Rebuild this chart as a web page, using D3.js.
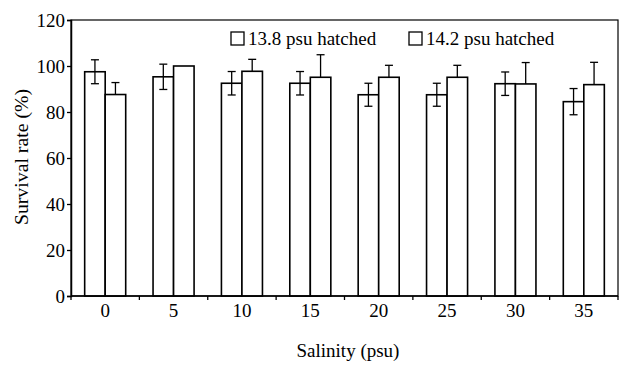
<!DOCTYPE html>
<html><head><meta charset="utf-8">
<script src="https://cdn.jsdelivr.net/npm/d3@7"></script>
<style>body{margin:0;background:#fff}svg{display:block}</style>
</head><body>
<script>
const categories = ["0","5","10","15","20","25","30","35"];
const seriesNames = ["13.8 psu hatched","14.2 psu hatched"];
const s1 = [97.5, 95.3, 92.5, 92.5, 87.5, 87.5, 92.3, 84.5];
const s1err = [5.2, 5.5, 5.1, 5.1, 5.0, 5.0, 5.1, 5.7];
const s2 = [87.6, 100, 97.7, 95.1, 95.1, 95.1, 92.2, 91.9];
const s2err = [5.2, 0, 5.2, 9.8, 5.2, 5.2, 9.3, 9.7];
const yTicks = [0,20,40,60,80,100,120];

const W=626,H=366;
const FF='"Liberation Serif"';
const m={l:71,r:8,t:20,b:70};
const svg=d3.select("body").append("svg").attr("width",W).attr("height",H);
const x=d3.scaleBand().domain(categories).range([m.l,W-m.r]).paddingInner(0.4).paddingOuter(0.2);
const xs=d3.scaleBand().domain([0,1]).range([0,x.bandwidth()]);
const y=d3.scaleLinear().domain([0,120]).range([H-m.b,m.t]);
const x0=m.l,x1=W-m.r,y0=H-m.b,y1=m.t;

// frame
svg.append("rect").attr("x",x0).attr("y",y1).attr("width",x1-x0).attr("height",y0-y1)
  .attr("fill","none").attr("stroke","#000").attr("stroke-width",1.2);

// bars
const series=[{v:s1,e:s1err,two:true},{v:s2,e:s2err,two:false}];
series.forEach((s,si)=>{
  const g=svg.append("g");
  categories.forEach((c,i)=>{
    const bx=x(c)+xs(si), bw=xs.bandwidth();
    g.append("rect").attr("x",bx).attr("y",y(s.v[i])).attr("width",bw).attr("height",y(0)-y(s.v[i]))
      .attr("fill","#fff").attr("stroke","#000").attr("stroke-width",1.6);
    if(s.e[i]>0){
      const cx=bx+bw/2, top=y(s.v[i]+s.e[i]), bot=s.two?y(s.v[i]-s.e[i]):y(s.v[i]);
      g.append("line").attr("x1",cx).attr("x2",cx).attr("y1",top).attr("y2",bot).attr("stroke","#000").attr("stroke-width",1.3);
      g.append("line").attr("x1",cx-4).attr("x2",cx+4).attr("y1",top).attr("y2",top).attr("stroke","#000").attr("stroke-width",1.3);
      if(s.two) g.append("line").attr("x1",cx-4).attr("x2",cx+4).attr("y1",bot).attr("y2",bot).attr("stroke","#000").attr("stroke-width",1.3);
    }
  });
});

// y axis
const ya=svg.append("g").attr("transform",`translate(${x0},0)`)
  .call(d3.axisLeft(y).tickValues(yTicks).tickSize(4).tickPadding(2));
ya.attr("font-family",null).attr("font-size",null);
ya.select(".domain").attr("stroke","#000").attr("stroke-width",1.5);
ya.selectAll("line").attr("stroke","#000").attr("stroke-width",1.3);
ya.selectAll("text").style("font-family",FF).style("font-size","19px").attr("fill","#000");

// x axis: ticks at group boundaries, labels at centres
const bounds=d3.range(categories.length+1).map(i=>x0+i*x.step());
svg.append("line").attr("x1",x0).attr("x2",x1).attr("y1",y0).attr("y2",y0).attr("stroke","#000").attr("stroke-width",1.5);
svg.selectAll(".xt").data(bounds).enter().append("line")
  .attr("x1",d=>d).attr("x2",d=>d).attr("y1",y0).attr("y2",y0+4).attr("stroke","#000").attr("stroke-width",1.3);
svg.selectAll(".xl").data(categories).enter().append("text")
  .attr("x",d=>x(d)+x.bandwidth()/2).attr("y",y0+21).attr("text-anchor","middle")
  .style("font-family",FF).style("font-size","19px").text(d=>d);

// titles
svg.append("text").attr("x",348).attr("y",357).attr("text-anchor","middle")
  .style("font-family",FF).style("font-size","19px").text("Salinity (psu)");
svg.append("text").attr("transform",`translate(28,157) rotate(-90)`).attr("text-anchor","middle")
  .style("font-family",FF).style("font-size","19.8px").text("Survival rate (%)");

// legend
const lg=[{x:231,t:seriesNames[0]},{x:409,t:seriesNames[1]}];
lg.forEach(l=>{
  svg.append("rect").attr("x",l.x).attr("y",32).attr("width",13).attr("height",13)
    .attr("fill","#fff").attr("stroke","#000").attr("stroke-width",1.3);
  svg.append("text").attr("x",l.x+17).attr("y",45).style("font-family",FF).style("font-size","19px").text(l.t);
});
</script>
</body></html>
